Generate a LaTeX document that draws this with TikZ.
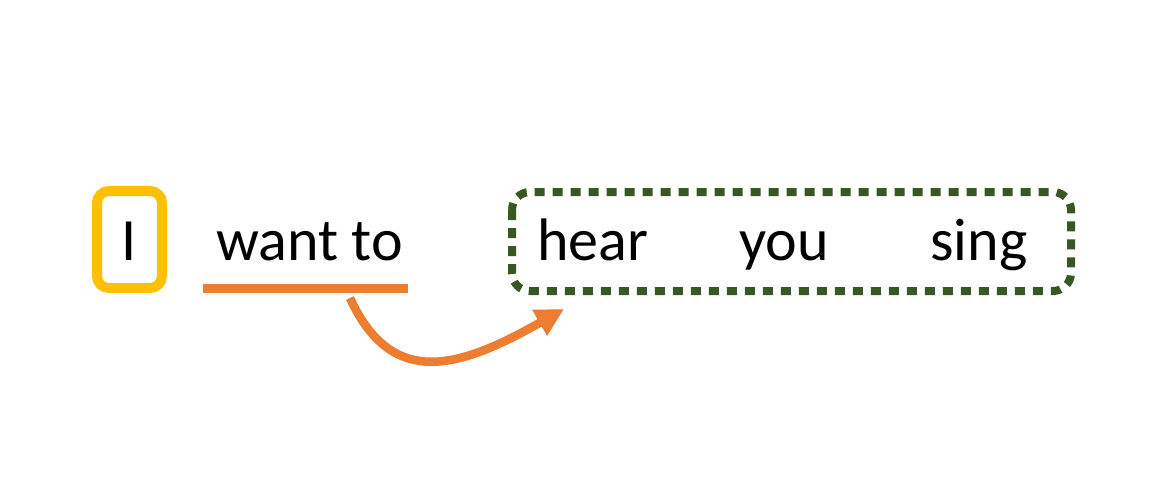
\documentclass[tikz,border=0pt]{standalone}
\usepackage{fontspec}
\setmainfont{Carlito}
\usetikzlibrary{arrows.meta}
\definecolor{cyellow}{HTML}{FFC000}
\definecolor{corange}{HTML}{ED7D31}
\definecolor{cgreen}{HTML}{385723}
\tikzset{
  word/.style={anchor=base, inner sep=0pt, font=\fontsize{45}{54}\selectfont},
  ybox/.style={draw=cyellow, line width=7.5pt, rounded corners=9pt},
  gbox/.style={draw=cgreen, line width=6pt, rounded corners=13.5pt, dash pattern=on 7.5pt off 6pt},
  uline/.style={draw=corange, line width=6.75pt},
  carrow/.style={draw=corange, line width=6.4pt, -{Triangle[length=21pt,width=21pt]}}
}
\begin{document}
\begin{tikzpicture}[x=0.75pt,y=-0.75pt]
\useasboundingbox (0,0) rectangle (1152,480);
% words
\node[word] (I) at (129,260) {I};
\node[word] (want) at (309.5,260) {want to};
\node[word] (hear) at (593,260) {hear};
\node[word] (you) at (784,260) {you};
\node[word] (sing) at (979,260) {sing};
% yellow box
\draw[ybox] (97,191) rectangle (162,288);
% underline
\coordinate (ul) at (203,288);
\coordinate (ur) at (408,288);
\draw[uline] (ul) -- (ur);
% green dotted box
\draw[gbox] (512,192) rectangle (1071,291);
% arrow
\coordinate (as) at (350,298);
\coordinate (ae) at (564,309);
\draw[carrow] (as) .. controls (392,390) and (460,368) .. (ae);
\end{tikzpicture}
\end{document}
